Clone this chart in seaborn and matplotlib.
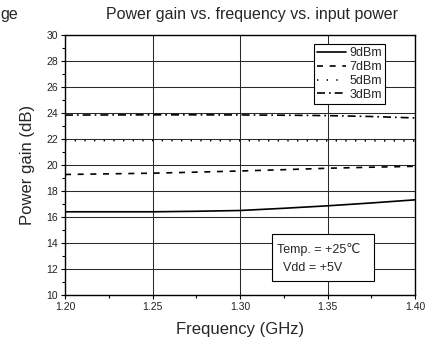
import matplotlib
matplotlib.use("Agg")
import matplotlib.pyplot as plt
from matplotlib.ticker import MultipleLocator, FormatStrFormatter
from matplotlib.patches import Rectangle
import numpy as np
import pandas as pd
import seaborn as sns

# Frequency sweep (GHz)
freq = [1.20, 1.225, 1.25, 1.275, 1.30, 1.325, 1.35, 1.375, 1.40]

# Power gain (dB) at each input power level
gain_9dbm = [16.40, 16.40, 16.40, 16.44, 16.50, 16.67, 16.86, 17.08, 17.32]
gain_7dbm = [19.27, 19.32, 19.37, 19.45, 19.54, 19.64, 19.75, 19.83, 19.90]
gain_5dbm = [21.88, 21.88, 21.88, 21.88, 21.87, 21.87, 21.86, 21.86, 21.85]
gain_3dbm = [23.84, 23.85, 23.86, 23.86, 23.85, 23.83, 23.80, 23.73, 23.62]

series_labels = ["9dBm", "7dBm", "5dBm", "3dBm"]
series_values = [gain_9dbm, gain_7dbm, gain_5dbm, gain_3dbm]

df = pd.concat(
    [pd.DataFrame({"freq": freq, "gain": vals, "power": lab})
     for lab, vals in zip(series_labels, series_values)],
    ignore_index=True,
)

sns.set_theme(style="white")
plt.rcParams["font.family"] = ["Liberation Sans", "DejaVu Sans", "Noto Sans CJK SC"]

W, H = 439, 342
fig = plt.figure(figsize=(W / 100, H / 100), dpi=100)
ax = fig.add_axes([65 / W, 1 - 295 / H, (415 - 65) / W, (295 - 35) / H])

dash_styles = {
    "9dBm": "",
    "7dBm": (3.6, 4.0),
    "5dBm": (0.8, 5.0),
    "3dBm": (4.8, 2.4, 1.0, 2.4),
}
sns.lineplot(
    data=df, x="freq", y="gain", hue="power", style="power",
    hue_order=series_labels, style_order=series_labels,
    palette=["black"] * 4, dashes=dash_styles, linewidth=1.2,
    ax=ax, legend=True,
)

ax.set_xlim(1.20, 1.40)
ax.set_ylim(10, 30)
ax.xaxis.set_major_locator(MultipleLocator(0.05))
ax.xaxis.set_minor_locator(MultipleLocator(0.025))
ax.yaxis.set_major_locator(MultipleLocator(2))
ax.yaxis.set_minor_locator(MultipleLocator(1))
ax.xaxis.set_major_formatter(FormatStrFormatter("%.2f"))
ax.grid(True, which="major", color="#2a2a2a", linewidth=0.75)
ax.set_axisbelow(True)

for sp in ax.spines.values():
    sp.set_color("black")
    sp.set_linewidth(1.0)
    sp.set_visible(True)

ax.tick_params(axis="both", which="major", direction="out", length=3, width=0.8,
               labelsize=7.5, colors="black", labelcolor="#222222", pad=2,
               bottom=True, left=True)
ax.tick_params(axis="both", which="minor", direction="out", length=2, width=0.8,
               colors="black", bottom=True, left=True)

ax.set_xlabel("Frequency (GHz)", fontsize=12, labelpad=7)
ax.set_ylabel("Power gain (dB)", fontsize=12, labelpad=8)

handles, labels = ax.get_legend_handles_labels()
leg = ax.legend(
    handles, labels, loc="upper left",
    bbox_to_anchor=(314 / W, 1 - 44 / H), bbox_transform=fig.transFigure,
    fontsize=9, frameon=True, fancybox=False, framealpha=1,
    edgecolor="black", handlelength=2.3, handletextpad=0.3,
    labelspacing=0.15, borderpad=0.25, borderaxespad=0,
)
leg.get_frame().set_linewidth(0.8)

# Test conditions box
fig.add_artist(Rectangle((272 / W, 1 - 281 / H), (374 - 272) / W, (281 - 234) / H,
                         transform=fig.transFigure, facecolor="white",
                         edgecolor="black", linewidth=0.8, zorder=5))
fig.text(277 / W, 1 - 250 / H, "Temp. = +25\u2103", fontsize=9, va="center",
         ha="left", zorder=6)
fig.text(283 / W, 1 - 268 / H, "Vdd = +5V", fontsize=9, va="center",
         ha="left", zorder=6)

fig.text(252 / W, 1 - 19.5 / H, "Power gain vs. frequency vs. input power",
         fontsize=11.5, ha="center", va="baseline")
fig.text(0.5 / W, 1 - 19.5 / H, "ge", fontsize=11.5, ha="left", va="baseline")

fig.savefig("out.png", dpi=100)
